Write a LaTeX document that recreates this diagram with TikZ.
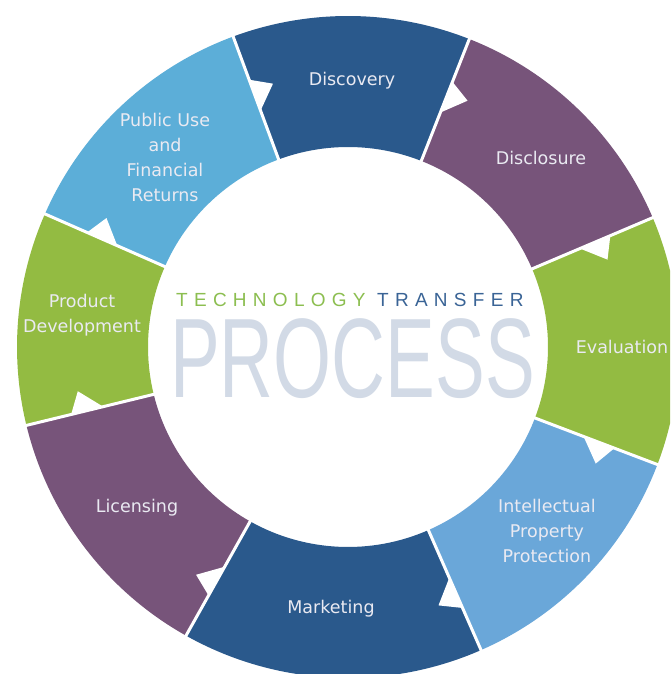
\documentclass[tikz,border=0pt]{standalone}
\usepackage{graphicx}
\usepackage{fontspec}
\setmainfont{DejaVu Sans}
\newfontfamily\lib{Liberation Sans}
\newfontfamily\libspaced[LetterSpace=33]{Liberation Sans}
\usetikzlibrary{calc}
\definecolor{dkblue}{RGB}{42,89,140}
\definecolor{purp}{RGB}{119,84,122}
\definecolor{grn}{RGB}{147,187,66}
\definecolor{ltblueA}{RGB}{92,174,216}
\definecolor{ltblueB}{RGB}{106,167,217}
\definecolor{labelwhite}{RGB}{234,234,242}
\definecolor{tgreen}{RGB}{140,190,80}
\definecolor{tblue}{RGB}{58,100,150}
\definecolor{procgray}{RGB}{210,218,230}
\begin{document}
\begin{tikzpicture}[x=1pt,y=1pt,
  lbl/.style={text=labelwhite, font=\fontsize{17.5}{25}\selectfont, align=center, inner sep=0pt},
  gapline/.style={white, line width=3pt},
  notch/.style={fill=white}]
\useasboundingbox (0,0) rectangle (670,674);
\clip (0,0) rectangle (670,674);
\fill[white] (0,0) rectangle (670,674);
\begin{scope}[shift={(348,327)}]
  \foreach \a/\b/\c in {68.5/110.3/dkblue, 23/68.5/purp, -20.8/23/grn, -66.3/-20.8/ltblueB,
      -119.3/-66.3/dkblue, -166.3/-119.3/purp, 156.3/193.7/grn, 110.3/156.3/ltblueA}
    \fill[\c] (\a:331pt) arc[start angle=\a, end angle=\b, radius=331pt]
      -- (\b:200pt) arc[start angle=\b, end angle=\a, radius=200pt] -- cycle;
  \foreach \t in {110.3, 68.5, 23, -20.8, -66.3, -119.3, -166.3, 156.3} {
    \draw[gapline] (\t:196pt) -- (\t:336pt);
    \fill[notch] (\t:285pt) -- (\t:252pt) -- ($(\t:273pt)+(\t-90:21pt)$) -- cycle;
  }
\end{scope}
\node[lbl] (discovery) at (352,593) {Discovery};
\node[lbl] (disclosure) at (541,516) {Disclosure};
\node[lbl] (evaluation) at (622,327) {Evaluation};
\node[lbl] (ipp) at (547,143) {Intellectual\\Property\\Protection};
\node[lbl] (marketing) at (331,65) {Marketing};
\node[lbl] (licensing) at (137,166) {Licensing};
\node[lbl] (proddev) at (82,359) {Product\\Development};
\node[lbl] (public) at (165,517) {Public Use\\and\\Financial\\Returns};
\node[anchor=base west, inner sep=0pt, text=tgreen, font=\libspaced\fontsize{19}{19}\selectfont] (tech) at (176,367) {TECHNOLOGY};
\node[anchor=base west, inner sep=0pt, text=tblue, font=\libspaced\fontsize{19}{19}\selectfont] (transfer) at (377,367) {TRANSFER};
\node[anchor=base west, inner sep=0pt, text=procgray] (process) at (170,276) {\scalebox{0.66}[1]{\lib\fontsize{113}{113}\selectfont PROCESS}};
\end{tikzpicture}
\end{document}
